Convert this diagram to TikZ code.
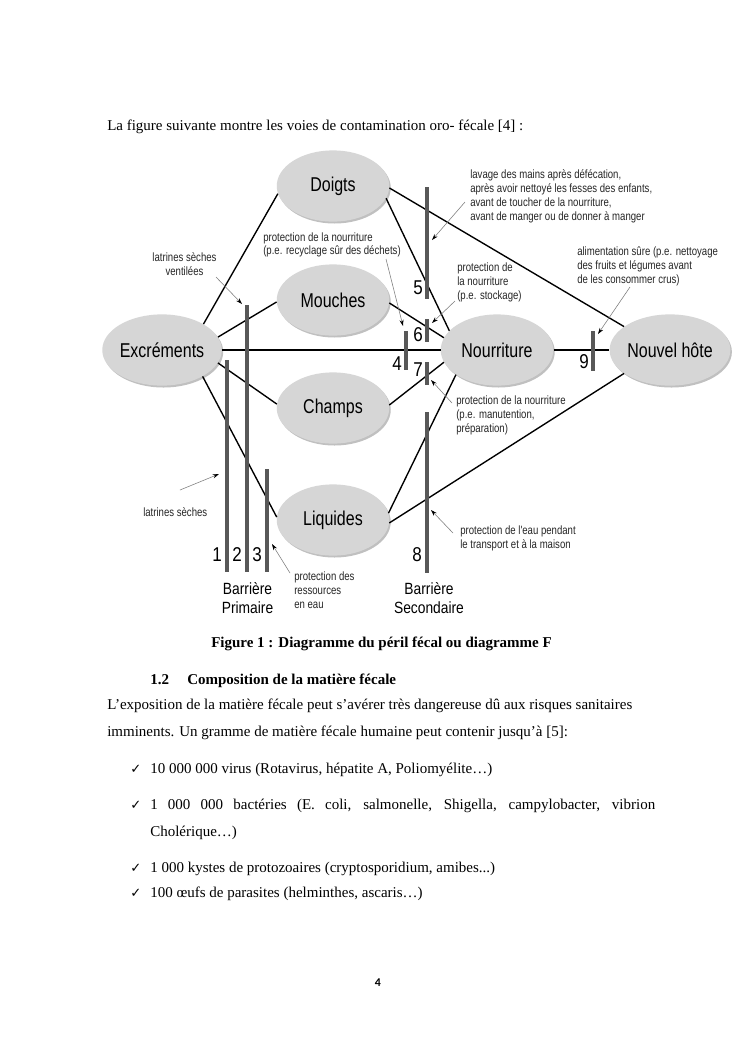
\documentclass[tikz,border=0pt]{standalone}
\usepackage{fontspec}
\setmainfont{Liberation Serif}
\newfontfamily\dgsans[FakeStretch=0.85]{Liberation Sans}
\newfontfamily\dgnarrow[FakeStretch=0.8]{Liberation Sans}
\newfontfamily\dgsym{DejaVu Sans}
\newfontfamily\dgpage{Carlito}
\usetikzlibrary{shapes.geometric,arrows.meta,shadows}
\definecolor{blobfill}{RGB}{214,214,214}
\definecolor{barcol}{RGB}{88,88,88}
\definecolor{ptrcol}{RGB}{125,125,125}
\definecolor{shadowcol}{RGB}{150,150,150}
\begin{document}
\begin{tikzpicture}[x=0.8pt,y=-0.8pt,
  blob/.style={ellipse, fill=blobfill, minimum width=90pt, minimum height=57pt, inner sep=0pt,
    font=\dgnarrow\fontsize{16}{18}\selectfont,
    drop shadow={shadow xshift=1.2pt, shadow yshift=-1.5pt, fill=shadowcol, opacity=0.6}},
  link/.style={line width=1.1pt, black},
  bar/.style={line width=3.2pt, barcol},
  note/.style={font=\dgnarrow\fontsize{9.6}{11.2}\selectfont, align=left, inner sep=0pt, anchor=north west, text=black!85},
  pointer/.style={draw=ptrcol, line width=0.45pt, -{Stealth[length=5pt,width=3.2pt,black]}},
  num/.style={font=\dgsans\fontsize{16}{16}\selectfont, inner sep=0pt},
  barlab/.style={font=\dgsans\fontsize{13}{15.2}\selectfont, align=center, inner sep=0pt, anchor=north},
  body/.style={font=\fontsize{12}{14}\selectfont, inner sep=0pt, anchor=base west},
  boldbody/.style={body, font=\fontsize{12}{14}\selectfont\bfseries},
  tick/.style={font=\dgsym\fontsize{10.5}{11}\selectfont, inner sep=0pt, anchor=base west}
]
\fill[white] (0,0) rectangle (745,1053);
\useasboundingbox (0,0) rectangle (745,1053);

% intro line
\node[body] (intro) at (107,130) {La figure suivante montre les voies de contamination oro- fécale [4] :};

% ellipses
\node[blob] (doi) at (333,186) {Doigts};
\node[blob] (mou) at (333,300) {Mouches};
\node[blob] (exc) at (162,350) {Excréments};
\node[blob] (cha) at (333,408) {Champs};
\node[blob] (liq) at (333,520) {Liquides};
\node[blob] (nou) at (497,350) {Nourriture};
\node[blob] (nh) at (670,350) {Nouvel hôte};

% connectors
\draw[link] (exc.32) -- (doi.188);
\draw[link] (exc.13) -- (mou.182);
\draw[link] (exc.east) -- (nou.west);
\draw[link] (exc.347) -- (cha.176);
\draw[link] (exc.327) -- (liq.177);
\draw[link] (doi.358) -- (nh.153);
\draw[link] (doi.347) -- (nou.158);
\draw[link] (mou.357) -- (nou.167);
\draw[link] (cha.3) -- (nou.193);
\draw[link] (liq.7) -- (nou.211);
\draw[link] (liq.357) -- (nh.207);
\draw[link] (nou.east) -- (nh.west);

% barriers
\coordinate (b1t) at (227,360); \coordinate (b1b) at (227,572);
\coordinate (b2t) at (247,305); \coordinate (b2b) at (247,572);
\coordinate (b3t) at (267,469); \coordinate (b3b) at (267,572);
\coordinate (b4t) at (406,331); \coordinate (b4b) at (406,370);
\coordinate (b5t) at (427,187); \coordinate (b5b) at (427,299);
\coordinate (b6t) at (427,319); \coordinate (b6b) at (427,342);
\coordinate (b7t) at (427,362); \coordinate (b7b) at (427,385);
\coordinate (b8t) at (427,412); \coordinate (b8b) at (427,573);
\coordinate (b9t) at (593,331); \coordinate (b9b) at (593,371);
\foreach \i in {1,...,9} {\draw[bar] (b\i t) -- (b\i b);}

% numbers
\node[num] (n1) at (217,554.5) {1};
\node[num] (n2) at (237,554.5) {2};
\node[num] (n3) at (257,554.5) {3};
\node[num] (n4) at (397,363.5) {4};
\node[num] (n5) at (418,287.5) {5};
\node[num] (n6) at (418,335) {6};
\node[num] (n7) at (418,370) {7};
\node[num] (n8) at (417,554.5) {8};
\node[num] (n9) at (584,362) {9};

\node[barlab] (bp) at (247.5,582) {Barrière\\Primaire};
\node[barlab] (bs) at (429,582) {Barrière\\Secondaire};

% annotations
\node[note, anchor=north, align=center] (na) at (184.5,252) {latrines sèches\\ventilées};
\coordinate (pa) at (216,277); \coordinate (qa) at (242,304);
\draw[pointer] (pa) -- (qa);

\node[note, font=\dgnarrow\fontsize{9.6}{9.8}\selectfont] (nb) at (263,233) {protection de la nourriture\\(p.e. recyclage sûr des déchets)};
\coordinate (pb) at (386,259); \coordinate (qb) at (403,326);
\draw[pointer] (pb) -- (qb);

\node[note] (nc) at (470,169) {lavage des mains après défécation,\\après avoir nettoyé les fesses des enfants,\\avant de toucher de la nourriture,\\avant de manger ou de donner à manger};
\coordinate (pc) at (465,202); \coordinate (qc) at (432,240);
\draw[pointer] (pc) -- (qc);

\node[note] (nd) at (457,263) {protection de\\la nourriture\\(p.e. stockage)};
\coordinate (pd) at (455,301); \coordinate (qd) at (432,323);
\draw[pointer] (pd) -- (qd);

\node[note] (ne) at (577,247) {alimentation sûre (p.e. nettoyage\\des fruits et légumes avant\\de les consommer crus)};
\coordinate (pe) at (630,287); \coordinate (qe) at (598,334);
\draw[pointer] (pe) -- (qe);

\node[note] (nf) at (456,396) {protection de la nourriture\\(p.e. manutention,\\préparation)};
\coordinate (pf) at (452,403); \coordinate (qf) at (431,380);
\draw[pointer] (pf) -- (qf);

\node[note] (ng) at (460,526) {protection de l'eau pendant\\le transport et à la maison};
\coordinate (pg) at (453,533); \coordinate (qg) at (431,510);
\draw[pointer] (pg) -- (qg);

\node[note] (nh2) at (143,507) {latrines sèches};
\coordinate (ph) at (180,490); \coordinate (qh) at (219,474);
\draw[pointer] (ph) -- (qh);

\node[note] (ni) at (294,572) {protection des\\ressources\\en eau};
\coordinate (pi) at (290,573); \coordinate (qi) at (272,544);
\draw[pointer] (pi) -- (qi);

% caption and text
\node[boldbody] (cap) at (211,647) {Figure 1 : Diagramme du péril fécal ou diagramme F};
\node[boldbody] (secn) at (150,684) {1.2};
\node[boldbody] (sect) at (187,684) {Composition de la matière fécale};
\node[body] (p1) at (107,709) {L’exposition de la matière fécale peut s’avérer très dangereuse dû aux risques sanitaires};
\node[body] (p2) at (107,736) {imminents. Un gramme de matière fécale humaine peut contenir jusqu’à [5]:};

\node[tick] (c1) at (130,773) {✓};
\node[body] (l1) at (150,773) {10 000 000 virus (Rotavirus, hépatite A, Poliomyélite…)};
\node[tick] (c2) at (130,809) {✓};
\node[body] (l2) at (150,809) {\makebox[404pt][s]{1 000 000 bactéries (E. coli, salmonelle, Shigella, campylobacter, vibrion}};
\node[body] (l2b) at (150,836) {Cholérique…)};
\node[tick] (c3) at (130,872) {✓};
\node[body] (l3) at (150,872) {1 000 kystes de protozoaires (cryptosporidium, amibes...)};
\node[tick] (c4) at (130,897) {✓};
\node[body] (l4) at (150,897) {100 œufs de parasites (helminthes, ascaris…)};

\node[font=\dgpage\bfseries\fontsize{9.5}{10}\selectfont, inner sep=0pt] (pgnum) at (378,983) {4};
\end{tikzpicture}
\end{document}
